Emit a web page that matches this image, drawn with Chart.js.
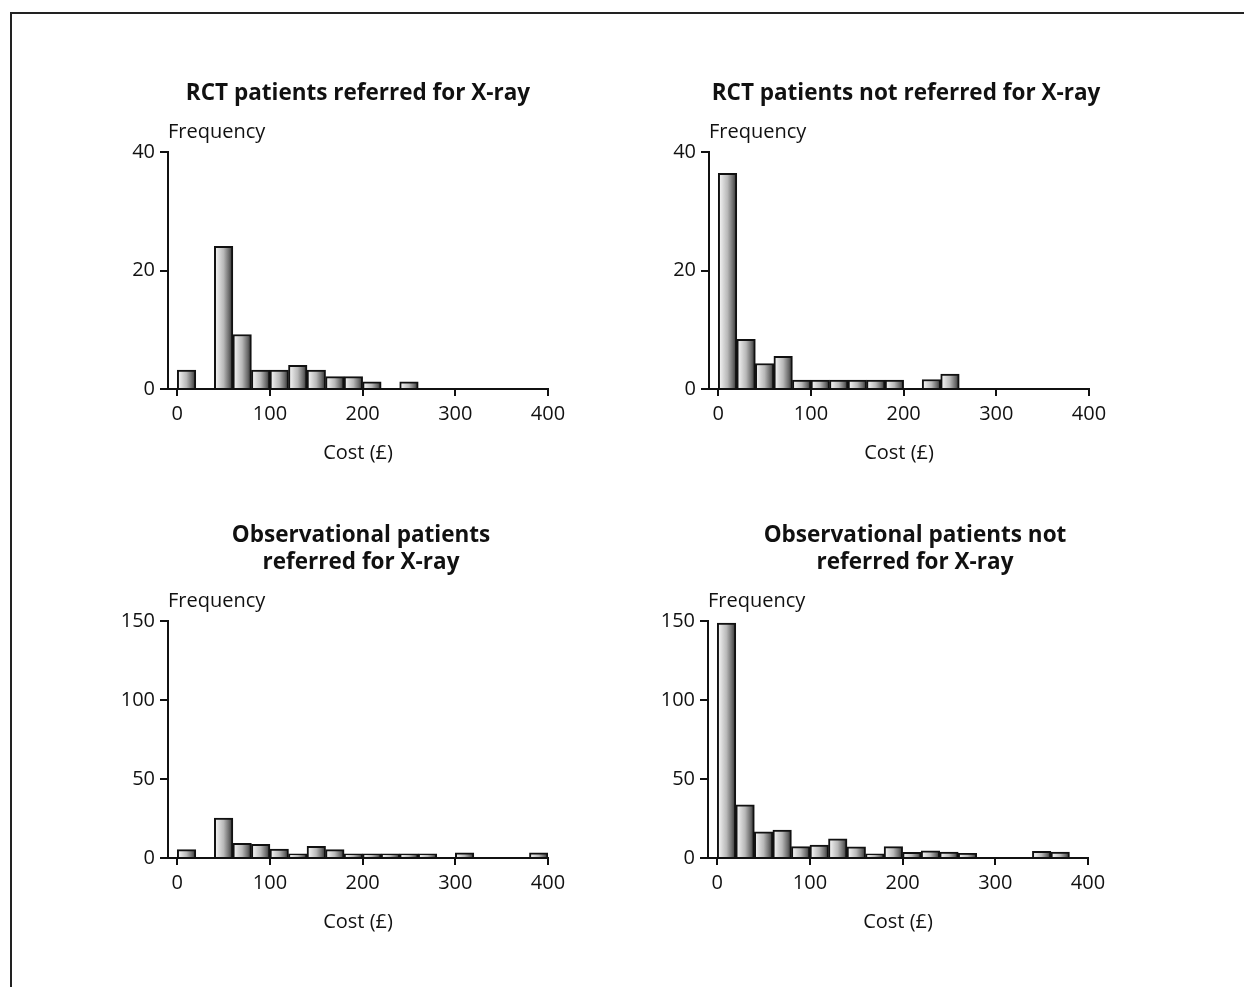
<!DOCTYPE html>
<html>
<head>
<meta charset="utf-8">
<title>Cost histograms</title>
<script src="https://cdn.jsdelivr.net/npm/chart.js@4.4.0/dist/chart.umd.min.js"></script>
<style>
    html, body { margin: 0; padding: 0; background: #fff; }
    body { width: 1244px; height: 987px; position: relative; overflow: hidden; }
    #frame {
        position: absolute; left: 10px; top: 12px; width: 1300px; height: 1000px;
        border-top: 2px solid #222; border-left: 2px solid #222;
    }
    canvas { position: absolute; }
</style>
</head>
<body>
<div id="frame"></div>
<canvas id="rctReferredChart" width="560" height="470" style="left:58px;top:12px"></canvas>
<canvas id="rctNotReferredChart" width="560" height="470" style="left:599px;top:12px"></canvas>
<canvas id="obsReferredChart" width="560" height="470" style="left:58px;top:481px"></canvas>
<canvas id="obsNotReferredChart" width="560" height="470" style="left:598px;top:481px"></canvas>
<script>
// Histogram bins, £20 wide from 0 to 400 (bin midpoints)
const binMids = [10, 30, 50, 70, 90, 110, 130, 150, 170, 190, 210, 230, 250, 270, 290, 310, 330, 350, 370, 390];
const binWidth = 20;
const costTicks = [0, 100, 200, 300, 400];

// Frequencies per bin
const rctReferred    = [3.2, 0, 24.1, 9.2, 3.2, 3.2, 4.0, 3.2, 2.1, 2.1, 1.2, 0, 1.2, 0, 0, 0, 0, 0, 0, 0];
const rctNotReferred = [36.4, 8.4, 4.3, 5.5, 1.5, 1.5, 1.5, 1.5, 1.5, 1.5, 0, 1.6, 2.5, 0, 0, 0, 0, 0, 0, 0];
const obsReferred    = [5.3, 0, 25.3, 9.3, 8.6, 5.7, 2.7, 7.4, 5.3, 2.7, 2.7, 2.7, 2.7, 2.7, 0, 3.2, 0, 0, 0, 3.2];
const obsNotReferred = [148.7, 33.7, 16.6, 17.7, 7.2, 8.2, 12.2, 7.0, 2.7, 7.2, 3.6, 4.6, 3.8, 3.0, 0, 0, 0, 4.2, 3.8, 0];

const rctFreqTicks = [0, 20, 40];
const obsFreqTicks = [0, 50, 100, 150];

Chart.defaults.font.family = '"Open Sans", sans-serif';
Chart.defaults.color = '#111';

// Panel heading + "Frequency" label above the y axis
const panelText = {
    id: 'panelText',
    afterDraw(chart, args, opts) {
        const { ctx, chartArea } = chart;
        const lines = opts.lines;
        ctx.save();
        ctx.fillStyle = '#111';
        ctx.textBaseline = 'middle';
        ctx.textAlign = 'center';
        ctx.font = 'bold 22.5px "Open Sans"';
        const cx = (chartArea.left + chartArea.right) / 2 + opts.shift;
        for (let i = 0; i < lines.length; i++) {
            ctx.fillText(lines[i], cx, chartArea.top - 58 - 27 * (lines.length - 1 - i));
        }
        ctx.font = '20px "Open Sans"';
        ctx.textAlign = 'left';
        ctx.fillText('Frequency', chartArea.left, chartArea.top - 20);
        ctx.restore();
    }
};

// grey shaded bars, light on the left and dark on the right
function barFill(c) {
    const chart = c.chart;
    if (c.type !== 'data' || !chart.chartArea) return '#bbb';
    const xs = chart.scales.x;
    const left = xs.getPixelForValue(c.raw.x - binWidth / 2);
    const right = xs.getPixelForValue(c.raw.x + binWidth / 2);
    const g = chart.ctx.createLinearGradient(left, 0, right, 0);
    g.addColorStop(0, '#bdbdbd');
    g.addColorStop(0.1, '#eeeeee');
    g.addColorStop(0.5, '#b8b8b8');
    g.addColorStop(0.8, '#6a6a6a');
    g.addColorStop(1, '#2a2a2a');
    return g;
}

function makeHistogram(id, counts, freqTicks, titleLines, shift) {
    const axisLine = { display: true, color: '#111', width: 2 };
    return new Chart(document.getElementById(id), {
        type: 'bar',
        data: {
            datasets: [{
                data: binMids.map((m, i) => ({ x: m, y: counts[i] })),
                backgroundColor: barFill,
                borderColor: '#111',
                borderWidth: 2,
                categoryPercentage: 1,
                barPercentage: 1
            }]
        },
        options: {
            responsive: false,
            animation: false,
            layout: { padding: { top: 140, left: 50, right: 70, bottom: 13 } },
            plugins: {
                legend: { display: false },
                tooltip: { enabled: false },
                panelText: { lines: titleLines, shift: shift }
            },
            scales: {
                x: {
                    type: 'linear',
                    min: -10, max: 400,
                    offset: false,
                    grid: { drawOnChartArea: false, drawTicks: true, tickLength: 7, color: '#111', lineWidth: 2, offset: false },
                    border: axisLine,
                    ticks: { font: { size: 20 }, color: '#111', padding: 6, maxRotation: 0, autoSkip: false },
                    afterBuildTicks: axis => { axis.ticks = costTicks.map(v => ({ value: v })); },
                    title: { display: true, text: 'Cost (£)', font: { size: 20 }, color: '#111', padding: { top: 0, bottom: 4 } },
                    afterFit: axis => { axis.height = 80; }
                },
                y: {
                    min: 0, max: freqTicks[freqTicks.length - 1],
                    grid: { drawOnChartArea: false, drawTicks: true, tickLength: 8, color: '#111', lineWidth: 2 },
                    border: axisLine,
                    ticks: { font: { size: 20 }, color: '#111', padding: 5 },
                    afterBuildTicks: axis => { axis.ticks = freqTicks.map(v => ({ value: v })); },
                    afterFit: axis => { axis.width = 60; }
                }
            }
        },
        plugins: [panelText]
    });
}

makeHistogram('rctReferredChart', rctReferred, rctFreqTicks, ['RCT patients referred for X-ray'], 0);
makeHistogram('rctNotReferredChart', rctNotReferred, rctFreqTicks, ['RCT patients not referred for X-ray'], 7);
makeHistogram('obsReferredChart', obsReferred, obsFreqTicks, ['Observational patients', 'referred for X-ray'], 3);
makeHistogram('obsNotReferredChart', obsNotReferred, obsFreqTicks, ['Observational patients not', 'referred for X-ray'], 17);
</script>
</body>
</html>
